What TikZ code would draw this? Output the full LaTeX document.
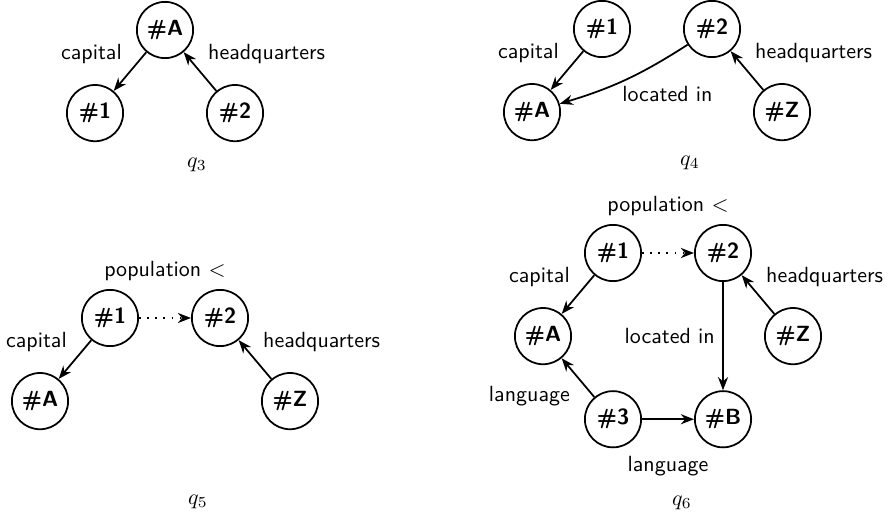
\documentclass[tikz,border=0pt]{standalone}
\usetikzlibrary{positioning, arrows.meta}

\begin{document}
\begin{tikzpicture}[node distance={1.33cm and 1.12cm}, on grid, thick, >={Stealth[length=6pt, width=4.6pt]},
        main/.style = {draw, circle, minimum size=0.9cm, inner sep=1pt, font=\sffamily\bfseries},
        rel/.style = {font=\sffamily},
        cmp/.style = {dash pattern=on 0.8pt off 2.9pt}]
    \useasboundingbox (0,0) rectangle (14.224,8.224);
    % q3
    \node[main] (a3) at (2.64,7.744) {\#A};
    \node[main] (one3) [below left=of a3] {\#1};
    \node[main] (two3) [below right=of a3] {\#2};
    \draw[->] (a3) -- node[midway, above left, rel] (cap3) {capital} (one3);
    \draw[->] (two3) -- node[midway, above right, rel] (hq3) {headquarters} (a3);
    \node (q3) at (3.152,5.584) {$q_3$};
    % q4
    \node[main] (one4) at (9.632,7.76) {\#1};
    \node[main] (two4) [right=1.76cm of one4] {\#2};
    \node[main] (a4) [below left=of one4] {\#A};
    \node[main] (z4) [below right=of two4] {\#Z};
    \draw[->] (one4) -- node[midway, above left, rel] (cap4) {capital} (a4);
    \draw[->] (z4) -- node[midway, above right, rel] (hq4) {headquarters} (two4);
    \draw[->] (two4) to[bend left=8] node[pos=0.6, below right, rel, yshift=3pt] (loc4) {located in} (a4);
    \node (q4) at (11.04,5.616) {$q_4$};
    % q5
    \node[main] (one5) at (1.76,3.136) {\#1};
    \node[main] (two5) [right=1.76cm of one5] {\#2};
    \node[main] (a5) [below left=of one5] {\#A};
    \node[main] (z5) [below right=of two5] {\#Z};
    \draw[->, cmp] (one5) -- node[midway, above=13pt, rel] (pop5) {population $<$} (two5);
    \draw[->] (one5) -- node[midway, above left, rel] (cap5) {capital} (a5);
    \draw[->] (z5) -- node[midway, above right, rel] (hq5) {headquarters} (two5);
    \node (q5) at (3.168,0.192) {$q_5$};
    % q6
    \node[main] (one6) at (9.808,4.176) {\#1};
    \node[main] (two6) [right=1.76cm of one6] {\#2};
    \node[main] (a6) [below left=of one6] {\#A};
    \node[main] (z6) [below right=of two6] {\#Z};
    \node[main] (three6) [below right=of a6] {\#3};
    \node[main] (b6) [right=1.76cm of three6] {\#B};
    \draw[->, cmp] (one6) -- node[midway, above=13pt, rel] (pop6) {population $<$} (two6);
    \draw[->] (one6) -- node[midway, above left, rel] (cap6) {capital} (a6);
    \draw[->] (z6) -- node[midway, above right, rel] (hq6) {headquarters} (two6);
    \draw[->] (two6) -- node[midway, left, rel] (loc6) {located in} (b6);
    \draw[->] (three6) -- node[midway, below left, rel] (lang6a) {language} (a6);
    \draw[->] (three6) -- node[midway, below=13pt, rel] (lang6b) {language} (b6);
    \node (q6) at (10.912,0.176) {$q_6$};
\end{tikzpicture}
\end{document}
